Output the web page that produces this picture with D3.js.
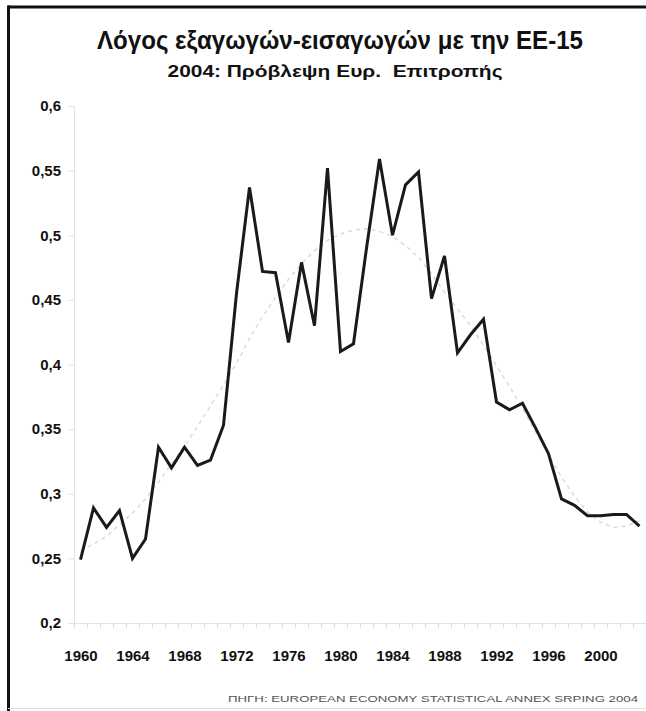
<!DOCTYPE html>
<html>
<head>
<meta charset="utf-8">
<script src="https://cdn.jsdelivr.net/npm/d3@7"></script>
<style>
  body { margin: 0; background: #fff; }
  svg { display: block; }
  text { font-family: "Liberation Sans", Arial, sans-serif; }
</style>
</head>
<body>
<div id="chart"></div>
<script>
// categories: years
const years = [
  1960, 1961, 1962, 1963, 1964, 1965, 1966, 1967, 1968, 1969,
  1970, 1971, 1972, 1973, 1974, 1975, 1976, 1977, 1978, 1979,
  1980, 1981, 1982, 1983, 1984, 1985, 1986, 1987, 1988, 1989,
  1990, 1991, 1992, 1993, 1994, 1995, 1996, 1997, 1998, 1999,
  2000, 2001, 2002, 2003
];

// export / import ratio with EU-15
const ratio = [
  0.249, 0.289, 0.274, 0.287, 0.250, 0.265, 0.336, 0.320, 0.336, 0.322,
  0.326, 0.353, 0.455, 0.537, 0.472, 0.471, 0.417, 0.479, 0.430, 0.552,
  0.410, 0.416, 0.490, 0.559, 0.500, 0.539, 0.549, 0.451, 0.484, 0.409,
  0.423, 0.435, 0.371, 0.365, 0.370, 0.351, 0.331, 0.296, 0.291, 0.283,
  0.283, 0.284, 0.284, 0.275
];

// dashed trend line
const trend = [
  0.256, 0.261, 0.267, 0.276, 0.285, 0.296, 0.309, 0.323, 0.337, 0.352,
  0.368, 0.384, 0.401, 0.420, 0.437, 0.452, 0.466, 0.478, 0.488, 0.496,
  0.501, 0.504, 0.505, 0.503, 0.499, 0.492, 0.483, 0.470, 0.456, 0.443,
  0.430, 0.415, 0.399, 0.383, 0.366, 0.348, 0.330, 0.313, 0.298, 0.286,
  0.278, 0.274, 0.275, 0.279
];

const yTicks = [0.2, 0.25, 0.3, 0.35, 0.4, 0.45, 0.5, 0.55, 0.6];
const xLabelYears = [1960, 1964, 1968, 1972, 1976, 1980, 1984, 1988, 1992, 1996, 2000];

const title = "Λόγος εξαγωγών-εισαγωγών με την ΕΕ-15";
const subtitle = "2004: Πρόβλεψη Ευρ.  Επιτροπής";
const source = "ΠΗΓΗ: EUROPEAN ECONOMY STATISTICAL ANNEX SRPING 2004";

const W = 646, H = 711;

const svg = d3.select("#chart").append("svg")
  .attr("width", W)
  .attr("height", H);

// frame: heavy black top and left, thin grey bottom
svg.append("line").attr("x1", 8).attr("x2", W).attr("y1", 7).attr("y2", 7)
  .attr("stroke", "#111").attr("stroke-width", 3);
svg.append("line").attr("x1", 8.5).attr("x2", 8.5).attr("y1", 5.5).attr("y2", H)
  .attr("stroke", "#111").attr("stroke-width", 3);
svg.append("line").attr("x1", 8).attr("x2", W).attr("y1", 708.5).attr("y2", 708.5)
  .attr("stroke", "#ddd").attr("stroke-width", 1);

// titles (condensed look via textLength)
svg.append("text")
  .attr("x", 340).attr("y", 49)
  .attr("text-anchor", "middle")
  .attr("font-size", 26).attr("font-weight", "bold").attr("fill", "#111")
  .attr("textLength", 486).attr("lengthAdjust", "spacingAndGlyphs")
  .text(title);

svg.append("text")
  .attr("x", 335).attr("y", 77)
  .attr("text-anchor", "middle")
  .attr("font-size", 16).attr("font-weight", "bold").attr("fill", "#111")
  .attr("style", "white-space: pre")
  .attr("textLength", 335).attr("lengthAdjust", "spacingAndGlyphs")
  .text(subtitle);

// scales
const x = d3.scaleLinear().domain([1959.5, 2003.5]).range([74, 646]);
const y = d3.scaleLinear().domain([0.2, 0.6]).range([623, 106]);

// y axis
const yAxis = svg.append("g")
  .attr("transform", `translate(${x(1959.5)},0)`)
  .call(d3.axisLeft(y)
    .tickValues(yTicks)
    .tickSize(6)
    .tickPadding(7)
    .tickFormat((d) => d3.format(".2~f")(d).replace(".", ",")));
yAxis.select(".domain").attr("stroke", "#e2e2e2");
yAxis.selectAll(".tick line").attr("stroke", "#e2e2e2");
yAxis.selectAll(".tick text")
  .attr("font-size", 15).attr("font-weight", "bold").attr("fill", "#111")
  .attr("font-family", "'Liberation Sans', Arial, sans-serif");

// x axis: small ticks between the years
const xAxis = svg.append("g")
  .attr("transform", `translate(0,${y(0.2)})`)
  .call(d3.axisBottom(x)
    .tickValues(years.map((d) => d + 0.5).concat([1959.5]))
    .tickSize(5)
    .tickSizeOuter(0)
    .tickFormat(""));
xAxis.select(".domain").attr("stroke", "#e2e2e2");
xAxis.selectAll(".tick line").attr("stroke", "#dcdcdc");

// x labels every 4 years
const xLabels = svg.append("g")
  .attr("transform", `translate(0,${y(0.2)})`)
  .call(d3.axisBottom(x)
    .tickValues(xLabelYears)
    .tickSize(0)
    .tickPadding(27)
    .tickFormat(d3.format("d")));
xLabels.select(".domain").remove();
xLabels.selectAll(".tick text")
  .attr("font-size", 15).attr("font-weight", "bold").attr("fill", "#111")
  .attr("font-family", "'Liberation Sans', Arial, sans-serif");

// trend line
const line = (vals) => d3.line()
  .x((d, i) => x(years[i]))
  .y((d) => y(d))(vals);

svg.append("path")
  .attr("d", line(trend))
  .attr("fill", "none")
  .attr("stroke", "#dadada")
  .attr("stroke-width", 1.5)
  .attr("stroke-dasharray", "4,4");

// main series
svg.append("path")
  .attr("d", line(ratio))
  .attr("fill", "none")
  .attr("stroke", "#1a1a1a")
  .attr("stroke-width", 3)
  .attr("stroke-linejoin", "miter");

// source note
svg.append("text")
  .attr("x", 638).attr("y", 702)
  .attr("text-anchor", "end")
  .attr("font-size", 9).attr("fill", "#555")
  .attr("textLength", 410).attr("lengthAdjust", "spacingAndGlyphs")
  .text(source);
</script>
</body>
</html>
